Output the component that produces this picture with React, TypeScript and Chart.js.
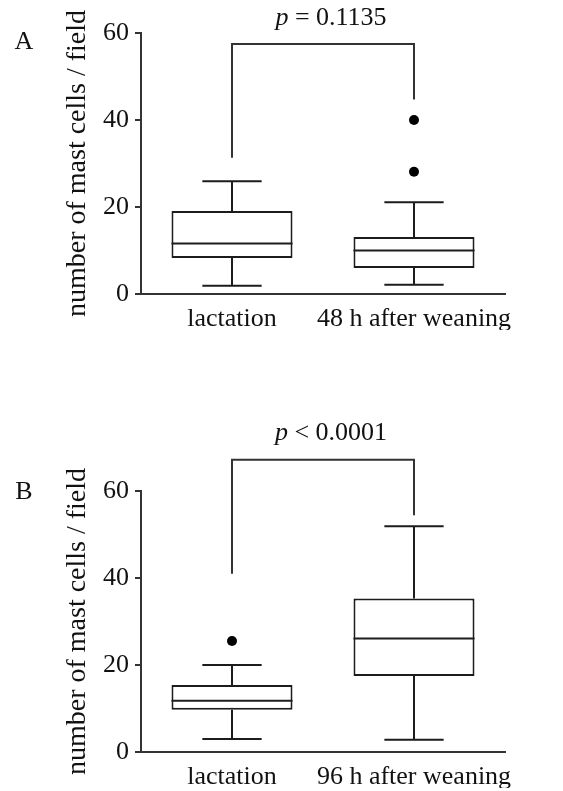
import React, { useEffect, useRef } from 'react';
import { Chart, registerables } from 'chart.js';

Chart.register(...registerables);

// ---------- data ----------
const categoriesA = ['lactation', '48 h after weaning'];
const categoriesB = ['lactation', '96 h after weaning'];
const yTickStep = 20;
const yMin = 0;
const yMax = 60;
const yTitle = 'number of mast cells / field';

// Panel A box statistics (per category)
const whiskerLowA = [1.9, 2.1];
const q1A = [8.3, 6.0];
const medianA = [11.6, 10.0];
const q3A = [19.1, 13.1];
const whiskerHighA = [25.9, 21.1];
const outliersA = [[], [28.1, 40.0]];

// Panel B box statistics (per category)
const whiskerLowB = [3.0, 2.8];
const q1B = [9.7, 17.5];
const medianB = [11.8, 26.1];
const q3B = [15.4, 35.3];
const whiskerHighB = [20.0, 51.9];
const outliersB = [[25.5], []];

// significance brackets: [left leg end, top, right leg end] in data units
const bracketA = [31.3, 57.5, 44.7];
const bracketB = [41.0, 67.2, 54.4];
const pRelA = '= 0.1135';
const pRelB = '< 0.0001';
const pLabelValueA = 63.5;
const pLabelValueB = 73.2;

const FONT = '"Liberation Serif", "Times New Roman", serif';
const FS = 26;
const TITLE_FS = 28;

type PanelProps = {
  letter: string;
  letterY: number;
  categories: string[];
  low: number[];
  q1: number[];
  median: number[];
  q3: number[];
  high: number[];
  outliers: number[][];
  bracket: number[];
  pRel: string;
  pValueY: number;
  top: number;
  height: number;
  padTop: number;
  padBottom: number;
};

function Panel(props: PanelProps) {
  const ref = useRef<HTMLCanvasElement | null>(null);
  useEffect(() => {
    const canvas = ref.current;
    if (!canvas) return;
    const { categories, low, q1, median, q3, high, outliers, bracket } = props;

    const extras = {
      id: 'boxExtras',
      afterDatasetsDraw(chart: any) {
        const ctx = chart.ctx;
        const ys = chart.scales.y;
        const meta = chart.getDatasetMeta(0);
        ctx.save();
        ctx.strokeStyle = '#1c1c1c';
        ctx.lineWidth = 2;
        ctx.lineCap = 'butt';
        meta.data.forEach((bar: any, i: number) => {
          const { x, width } = bar.getProps(['x', 'width'], true);
          const half = width / 2;
          const cap = width * 0.245;
          const yMed = ys.getPixelForValue(median[i]);
          const yQ1 = ys.getPixelForValue(q1[i]);
          const yQ3 = ys.getPixelForValue(q3[i]);
          const yHi = ys.getPixelForValue(high[i]);
          const yLo = ys.getPixelForValue(low[i]);
          ctx.beginPath();
          ctx.moveTo(x - half, yMed); ctx.lineTo(x + half, yMed);
          ctx.moveTo(x, yQ3); ctx.lineTo(x, yHi);
          ctx.moveTo(x - cap, yHi); ctx.lineTo(x + cap, yHi);
          ctx.moveTo(x, yQ1); ctx.lineTo(x, yLo);
          ctx.moveTo(x - cap, yLo); ctx.lineTo(x + cap, yLo);
          ctx.stroke();
        });
        ctx.restore();
      },
      afterDraw(chart: any) {
        const ctx = chart.ctx;
        const xs = chart.scales.x;
        const ys = chart.scales.y;
        const x1 = xs.getPixelForValue(0);
        const x2 = xs.getPixelForValue(1);
        ctx.save();
        ctx.strokeStyle = '#333';
        ctx.lineWidth = 2;
        ctx.beginPath();
        ctx.moveTo(x1, ys.getPixelForValue(bracket[0]));
        ctx.lineTo(x1, ys.getPixelForValue(bracket[1]));
        ctx.lineTo(x2, ys.getPixelForValue(bracket[1]));
        ctx.lineTo(x2, ys.getPixelForValue(bracket[2]));
        ctx.stroke();

        // p label
        ctx.fillStyle = '#111';
        ctx.textBaseline = 'middle';
        ctx.textAlign = 'left';
        const italic = `italic ${FS}px ${FONT}`;
        const normal = `${FS}px ${FONT}`;
        ctx.font = italic;
        const wp = ctx.measureText('p').width;
        ctx.font = normal;
        const rest = ' ' + props.pRel;
        const wr = ctx.measureText(rest).width;
        const cx = (x1 + x2) / 2 + 8;
        const py = ys.getPixelForValue(props.pValueY);
        const sx = cx - (wp + wr) / 2;
        ctx.font = italic;
        ctx.fillText('p', sx, py);
        ctx.font = normal;
        ctx.fillText(rest, sx + wp, py);

        // panel letter
        ctx.textAlign = 'center';
        ctx.fillText(props.letter, 24, props.letterY);
        ctx.restore();
      },
    };

    const outlierPoints: { x: string; y: number }[] = [];
    outliers.forEach((arr, i) => arr.forEach((v) => outlierPoints.push({ x: categories[i], y: v })));

    const chart = new Chart(canvas, {
      type: 'bar',
      data: {
        labels: categories,
        datasets: [
          {
            type: 'bar',
            data: categories.map((_, i) => [q1[i], q3[i]]) as any,
            backgroundColor: '#ffffff',
            borderColor: '#1c1c1c',
            borderWidth: 2,
            borderSkipped: false,
            categoryPercentage: 1,
            barPercentage: 0.665,
          } as any,
          {
            type: 'line',
            data: outlierPoints as any,
            showLine: false,
            pointRadius: 5,
            pointBackgroundColor: '#000',
            pointBorderColor: '#000',
            pointBorderWidth: 0,
          } as any,
        ],
      },
      options: {
        animation: false,
        responsive: false,
        maintainAspectRatio: false,
        layout: { padding: { top: props.padTop, right: 58, bottom: props.padBottom, left: 0 } },
        plugins: { legend: { display: false }, tooltip: { enabled: false } },
        scales: {
          x: {
            type: 'category',
            offset: true,
            grid: { display: false, drawTicks: false, tickLength: 0 },
            border: { display: true, color: '#333', width: 2 },
            ticks: {
              font: { family: FONT, size: FS },
              color: '#111',
              padding: 10,
              maxRotation: 0,
              autoSkip: false,
            },
            afterFit: (s: any) => { s.height = 36; },
          },
          y: {
            min: yMin,
            max: yMax,
            ticks: { stepSize: yTickStep, font: { family: FONT, size: FS }, color: '#111', padding: 6 },
            grid: { display: true, drawOnChartArea: false, drawTicks: true, tickLength: 6, color: '#333', lineWidth: 2 },
            border: { display: true, color: '#333', width: 2 },
            title: {
              display: true,
              text: yTitle,
              font: { family: FONT, size: TITLE_FS },
              color: '#111',
              padding: { top: 61, bottom: 0 },
            },
            afterFit: (s: any) => { s.width = 141; },
          },
        },
      } as any,
      plugins: [extras],
    });
    return () => chart.destroy();
  }, []);
  return (
    <canvas
      ref={ref}
      width={563}
      height={props.height}
      style={{ position: 'absolute', left: 0, top: props.top, width: 563, height: props.height }}
    />
  );
}

export default function App() {
  return (
    <div style={{ position: 'fixed', left: 0, top: 0, width: 563, height: 791, background: '#fff' }}>
      <Panel
        letter="A"
        letterY={42}
        categories={categoriesA}
        low={whiskerLowA}
        q1={q1A}
        median={medianA}
        q3={q3A}
        high={whiskerHighA}
        outliers={outliersA}
        bracket={bracketA}
        pRel={pRelA}
        pValueY={pLabelValueA}
        top={0}
        height={395}
        padTop={33}
        padBottom={65}
      />
      <Panel
        letter="B"
        letterY={97}
        categories={categoriesB}
        low={whiskerLowB}
        q1={q1B}
        median={medianB}
        q3={q3B}
        high={whiskerHighB}
        outliers={outliersB}
        bracket={bracketB}
        pRel={pRelB}
        pValueY={pLabelValueB}
        top={395}
        height={396}
        padTop={96}
        padBottom={3}
      />
    </div>
  );
}
